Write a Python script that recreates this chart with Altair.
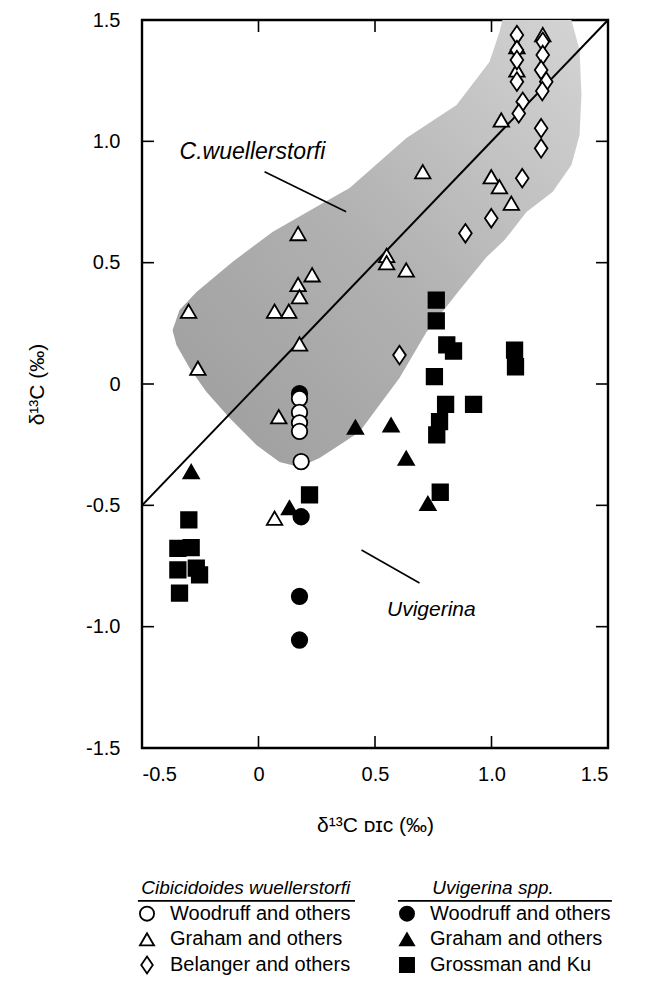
import altair as alt
import pandas as pd

FONT = "Liberation Sans"

# ---------------- data ----------------
# Cibicidoides wuellerstorfi (open symbols)
cw_woodruff_x = [0.176, 0.176, 0.176, 0.176, 0.183]
cw_woodruff_y = [-0.06, -0.117, -0.16, -0.195, -0.32]

cw_graham_x = [-0.30, -0.26, 0.069, 0.13, 0.17, 0.23, 0.17, 0.176, 0.176, 0.087, 0.069,
               0.55, 0.55, 0.634, 0.705, 0.999, 1.034, 1.085, 1.042, 1.109, 1.109, 1.22]
cw_graham_y = [0.30, 0.065, 0.30, 0.30, 0.62, 0.45, 0.41, 0.36, 0.165, -0.135, -0.553,
               0.53, 0.50, 0.47, 0.875, 0.854, 0.813, 0.745, 1.088, 1.39, 1.294, 1.44]

cw_belanger_x = [1.109, 1.109, 1.109, 1.109, 1.134, 1.117, 1.22, 1.22, 1.213, 1.235, 1.218,
                 1.213, 1.213, 1.132, 0.999, 0.888, 0.605]
cw_belanger_y = [1.438, 1.376, 1.335, 1.246, 1.163, 1.115, 1.41, 1.356, 1.294, 1.246, 1.207,
                 1.054, 0.971, 0.848, 0.683, 0.621, 0.119]

# Uvigerina spp. (filled symbols)
uv_woodruff_x = [0.176, 0.183, 0.176, 0.176]
uv_woodruff_y = [-0.04, -0.547, -0.875, -1.055]

uv_graham_x = [-0.289, 0.133, 0.416, 0.569, 0.634, 0.727]
uv_graham_y = [-0.361, -0.51, -0.178, -0.169, -0.306, -0.492]

uv_grossman_x = [0.219, -0.299, -0.346, -0.289, -0.346, -0.267, -0.253, -0.339,
                 0.763, 0.763, 0.808, 0.837, 1.099, 1.103, 0.755, 0.803, 0.923, 0.777, 0.765, 0.78]
uv_grossman_y = [-0.457, -0.56, -0.677, -0.674, -0.766, -0.759, -0.787, -0.862,
                 0.346, 0.26, 0.161, 0.136, 0.14, 0.071, 0.03, -0.084, -0.084, -0.155, -0.21, -0.446]

# shaded C. wuellerstorfi field outline
blob_x = [-0.352, -0.369, -0.339, -0.266, -0.112, 0.060, 0.262, 0.391, 0.635, 0.850, 0.991,
          1.034, 1.047, 1.343, 1.378, 1.386, 1.378, 1.343, 1.262, 1.150, 1.056, 0.979, 0.863,
          0.721, 0.605, 0.433, 0.348, 0.262, 0.176, 0.090, -0.009, -0.124, -0.223, -0.296]
blob_y = [0.161, 0.222, 0.305, 0.379, 0.503, 0.626, 0.738, 0.808, 1.014, 1.150, 1.327,
          1.450, 1.5, 1.5, 1.376, 1.191, 1.026, 0.902, 0.791, 0.709, 0.593, 0.523, 0.387,
          0.214, 0.025, -0.198, -0.251, -0.305, -0.342, -0.321, -0.251, -0.140, -0.033, 0.066]

# 1:1 line
diag_x = [-0.5, 1.5]
diag_y = [-0.5, 1.5]

# annotations
label_text = ["C.wuellerstorfi", "Uvigerina"]
label_x = [-0.026, 0.742]
label_y = [0.956, -0.931]
label_size = [23, 21]
pointer_x = [0.026, 0.442]
pointer_y = [0.875, -0.684]
pointer_x2 = [0.376, 0.691]
pointer_y2 = [0.71, -0.82]

x_ticks = [-0.5, 0.0, 0.5, 1.0, 1.5]
y_ticks = [-1.5, -1.0, -0.5, 0.0, 0.5, 1.0, 1.5]

series_names = ["C Woodruff", "C Graham", "C Belanger", "U Woodruff", "U Graham", "U Grossman"]
legend_labels = ["Woodruff and others", "Graham and others", "Belanger and others",
                 "Woodruff and others", "Graham and others", "Grossman and Ku"]
legend_headers = ["Cibicidoides wuellerstorfi", "Uvigerina spp."]

DIAMOND = "M0,-1.2L0.82,0L0,1.2L-0.82,0Z"
shape_range = ["circle", "triangle-up", DIAMOND, "circle", "triangle-up", "square"]
fill_range = ["white", "white", "white", "black", "black", "black"]

# ---------------- tables ----------------
def pts(xs, ys, name):
    return pd.DataFrame({"x": xs, "y": ys, "series": name})

points_df = pd.concat([
    pts(uv_grossman_x, uv_grossman_y, series_names[5]),
    pts(uv_graham_x, uv_graham_y, series_names[4]),
    pts(uv_woodruff_x, uv_woodruff_y, series_names[3]),
    pts(cw_graham_x, cw_graham_y, series_names[1]),
    pts(cw_belanger_x, cw_belanger_y, series_names[2]),
    pts(cw_woodruff_x, cw_woodruff_y, series_names[0]),
], ignore_index=True)
points_df["order"] = range(len(points_df))

blob_df = pd.DataFrame({"x": blob_x + [blob_x[0]], "y": blob_y + [blob_y[0]]})
blob_df["i"] = range(len(blob_df))
diag_df = pd.DataFrame({"x": diag_x, "y": diag_y})
labels_df = pd.DataFrame({"x": label_x, "y": label_y, "t": label_text, "s": label_size})
pointer_df = pd.DataFrame({"x": pointer_x, "y": pointer_y, "x2": pointer_x2, "y2": pointer_y2})

TX = 12 / 233.0   # inward tick length in x units
TY = 12 / 242.7   # inward tick length in y units
tick_rows = []
for v in x_ticks:
    tick_rows.append({"x": v, "x2": v, "y": -1.5, "y2": -1.5 + TY})
    tick_rows.append({"x": v, "x2": v, "y": 1.5, "y2": 1.5 - TY})
for v in y_ticks:
    tick_rows.append({"x": -0.5, "x2": -0.5 + TX, "y": v, "y2": v})
    tick_rows.append({"x": 1.5, "x2": 1.5 - TX, "y": v, "y2": v})
ticks_df = pd.DataFrame(tick_rows)

# ---------------- main panel ----------------
LBL = "datum.value == 0 ? '0' : (datum.value < 0 ? '-' : '') + format(abs(datum.value), '.1f')"
xs = alt.Scale(domain=[-0.5, 1.5], nice=False, zero=False)
ys = alt.Scale(domain=[-1.5, 1.5], nice=False, zero=False)
xaxis = alt.Axis(values=x_ticks, title="δ¹³C ᴅɪᴄ   (‰)", labelExpr=LBL, domain=False,
                 ticks=False, grid=False, labelPadding=16, titlePadding=30,
                 labelFontSize=20, titleFontSize=21, labelFont=FONT, titleFont=FONT,
                 titleFontWeight="normal", labelColor="black", titleColor="black")
yaxis = alt.Axis(values=y_ticks, title="δ¹³C   (‰)", labelExpr=LBL, domain=False,
                 ticks=False, grid=False, labelPadding=22, titlePadding=38,
                 labelFontSize=20, titleFontSize=21, labelFont=FONT, titleFont=FONT,
                 titleFontWeight="normal", labelColor="black", titleColor="black")
X = alt.X("x:Q", scale=xs, axis=xaxis)
Y = alt.Y("y:Q", scale=ys, axis=yaxis)

grad = alt.LinearGradient(
    gradient="linear",
    stops=[alt.GradientStop(color="#9c9c9c", offset=0),
           alt.GradientStop(color="#b2b2b2", offset=0.5),
           alt.GradientStop(color="#d4d4d4", offset=1)],
    x1=0, y1=1, x2=1, y2=0)

blob = alt.Chart(blob_df).mark_line(fill=grad, strokeOpacity=0, interpolate="linear").encode(
    x=X, y=Y, order="i:Q")
diag = alt.Chart(diag_df).mark_line(color="black", strokeWidth=2).encode(x=X, y=Y)
pointers = alt.Chart(pointer_df).mark_rule(color="black", strokeWidth=1.6).encode(
    x=X, y=Y, x2="x2:Q", y2="y2:Q")
ticks = alt.Chart(ticks_df).mark_rule(color="black", strokeWidth=1.6).encode(
    x=X, y=Y, x2="x2:Q", y2="y2:Q")
labels = alt.Chart(labels_df).mark_text(font=FONT, fontStyle="italic",
                                        color="black").encode(
    x=X, y=Y, text="t:N", size=alt.Size("s:Q", scale=None, legend=None))

shape_scale = alt.Scale(domain=series_names, range=shape_range)
fill_scale = alt.Scale(domain=series_names, range=fill_range)
points = alt.Chart(points_df).mark_point(filled=True, stroke="black", strokeWidth=1.8,
                                         size=240, opacity=1).encode(
    x=X, y=Y,
    shape=alt.Shape("series:N", scale=shape_scale, legend=None),
    fill=alt.Fill("series:N", scale=fill_scale, legend=None),
    order="order:Q")

main = alt.layer(blob, diag, pointers, ticks, points, labels).properties(
    width=466, height=728,
    view=alt.ViewBackground(stroke="black", strokeWidth=2.4))

# ---------------- custom legend (origin = plot's left edge) ----------------
leg_df = pd.DataFrame({"col": [0, 0, 0, 1, 1, 1], "row": [1, 2, 3, 1, 2, 3],
                       "label": legend_labels, "series": series_names})
head_df = pd.DataFrame({"col": [0.38, 1.331], "row": [0, 0], "t": legend_headers})
line_df = pd.DataFrame({"col": [-0.035, 0.965], "col2": [0.8, 1.788], "row": [0.5, 0.5]})

LX = alt.Scale(domain=[0, 1], range=[5, 265])
LY = alt.Scale(domain=[0, 3], range=[28, 105])
lx = alt.X("col:Q", scale=LX, axis=None)
ly = alt.Y("row:Q", scale=LY, axis=None)

leg_sym = alt.Chart(leg_df).mark_point(filled=True, stroke="black", strokeWidth=1.8,
                                       size=200, opacity=1).encode(
    x=lx, y=ly,
    shape=alt.Shape("series:N", scale=shape_scale, legend=None),
    fill=alt.Fill("series:N", scale=fill_scale, legend=None))
leg_txt = alt.Chart(leg_df).mark_text(align="left", dx=23, font=FONT, fontSize=20,
                                      color="black").encode(x=lx, y=ly, text="label:N")
leg_head = alt.Chart(head_df).mark_text(align="center", font=FONT, fontSize=19,
                                        fontStyle="italic", color="black").encode(
    x=lx, y=ly, text="t:N")
leg_line = alt.Chart(line_df).mark_rule(color="black", strokeWidth=1.6).encode(
    x=lx, x2="col2:Q", y=ly)

legend = alt.layer(leg_line, leg_head, leg_sym, leg_txt).properties(
    width=466, height=107, view=alt.ViewBackground(stroke="transparent"))

chart = alt.vconcat(main, legend, spacing=22).properties(
    padding={"left": 17, "top": 0, "right": 5, "bottom": 0},
    background="white")

chart.save("out.html", embed_options={"renderer": "svg", "actions": False})
